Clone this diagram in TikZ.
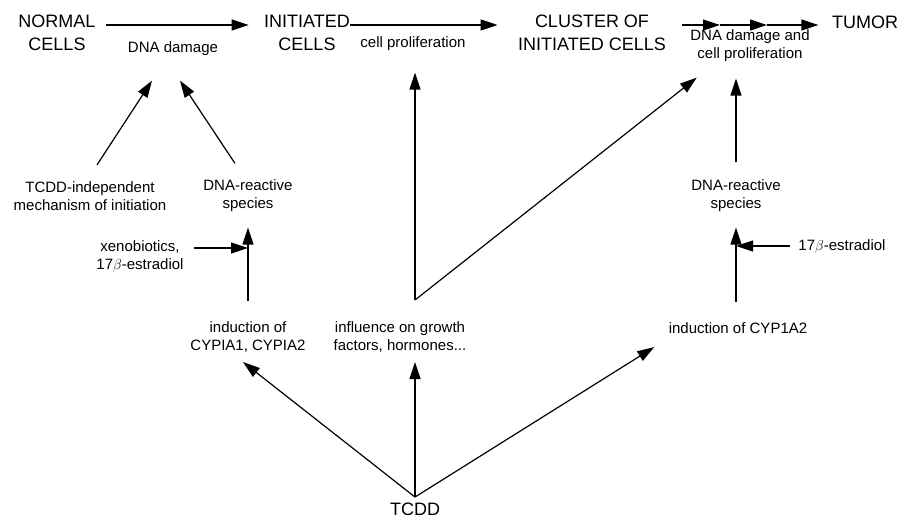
\documentclass[tikz,border=0pt]{standalone}
\usepackage{fontspec}
\setmainfont{Liberation Sans}
\usetikzlibrary{arrows.meta}

\begin{document}
\begin{tikzpicture}
[x=1pt,y=-1pt,
line width=1.2pt,
every node/.style={
  inner sep=0pt, align=center
},
stage/.style={
  font=\fontsize{18}{23}\selectfont
},
event/.style={
  font=\fontsize{15}{18}\selectfont
},
arr/.style={
  -{Triangle[length=17pt,width=11pt]}
}
]
\useasboundingbox (0,0) rectangle (901,520);

% Stages
\node[stage] (normal) at (57,33) {NORMAL\\CELLS};
\node[stage] (initiated) at (307,33) {INITIATED\\CELLS};
\node[stage] (cluster) at (592,33) {CLUSTER OF\\INITIATED CELLS};
\node[stage] (tumor) at (865,22) {TUMOR};

% Events between stages
\node[event] (damage) at (173,49) {DNA damage};
\node[event] (prolif) at (413,44) {cell proliferation};
\node[event] (damageprolif) at (750,46) {DNA damage and\\cell proliferation};
\coordinate (dd1) at (720,25);
\coordinate (dd2) at (767,25);

\draw[arr] ([xshift=10pt,yshift=8pt]normal.east) -- ([xshift=-15pt,yshift=8pt]initiated.west);
\draw[arr] ([yshift=8pt]initiated.east) -- ([xshift=-20pt,yshift=8pt]cluster.west);
\draw[arr] ([xshift=16pt,yshift=8pt]cluster.east) -- (dd1);
\draw[arr] (dd1) -- (dd2);
\draw[arr] (dd2) -- ([xshift=-13pt,yshift=-3pt]tumor.west);

% Left branch
\node[event] (indep) at (90,196) {TCDD-independent\\mechanism of initiation};
\node[event] (reactive1) at (248,196) {DNA-reactive\\species};
\node[event] (xeno) at (140,256) {xenobiotics,\\17$\beta$-estradiol};
\node[event] (cyp1) at (248,337) {induction of\\CYPIA1, CYPIA2};
\coordinate (join1) at (248,248);

\draw[arr] ([xshift=7pt,yshift=16pt]indep.north) -- ([xshift=-21pt,yshift=-24pt]damage.south);
\draw[arr] ([xshift=-13pt,yshift=16pt]reactive1.north) -- ([xshift=7pt,yshift=-24pt]damage.south);
\draw[arr] ([yshift=20pt]cyp1.north) -- ([yshift=-15pt]reactive1.south);
\draw[arr] ([xshift=10pt]xeno.east |- join1) -- (join1);

% Middle branch
\node[event] (influence) at (400,337) {influence on growth\\factors, hormones...};
\coordinate (fork) at (415,300);

\draw[arr] (fork) -- ([yshift=-21pt]fork |- prolif.south);
\draw[arr] (fork) -- ([xshift=7pt,yshift=-15pt]damageprolif.south west);

% Right branch
\node[event] (reactive2) at (736,196) {DNA-reactive\\species};
\node[event] (estradiol) at (842,246) {17$\beta$-estradiol};
\node[event] (cyp2) at (738,328) {induction of CYP1A2};
\coordinate (join2) at (736,246);

\draw[arr] ([yshift=17pt]reactive2.north) -- ([yshift=-16pt]reactive2.north |- damageprolif.south);
\draw[arr] ([yshift=20pt]reactive2 |- cyp2.north) -- ([yshift=-15pt]reactive2.south);
\draw[arr] ([xshift=-8pt]estradiol.west |- join2) -- (join2);

% TCDD
\node[stage] (tcdd) at (415,509) {TCDD};

\draw[arr] ([yshift=5pt]tcdd.north) -- ([xshift=-5pt,yshift=-9pt]cyp1.south);
\draw[arr] ([yshift=5pt]tcdd.north) -- ([yshift=-9pt]tcdd.north |- influence.south);
\draw[arr] ([yshift=5pt]tcdd.north) -- ([xshift=-14pt,yshift=-13pt]cyp2.south west);

\end{tikzpicture}
\end{document}
